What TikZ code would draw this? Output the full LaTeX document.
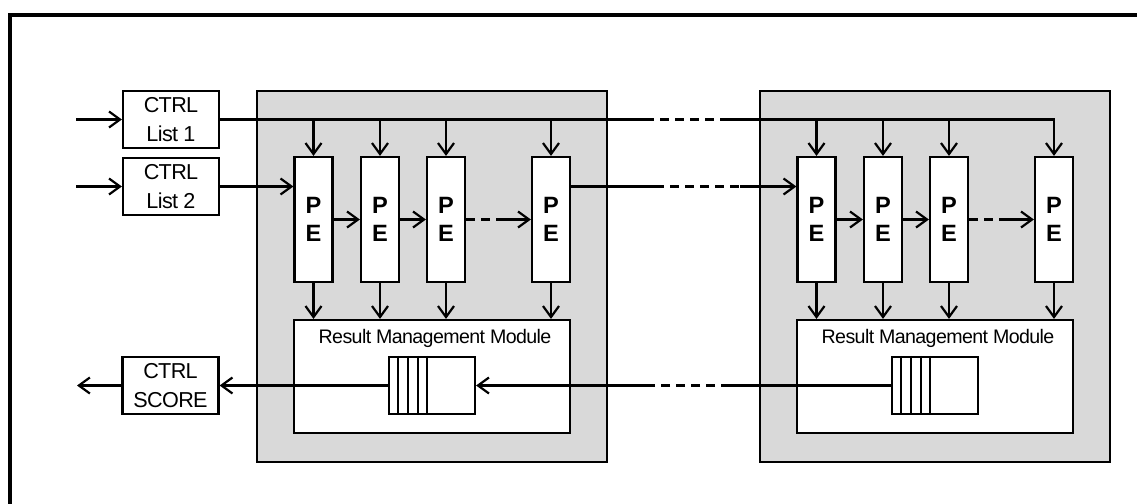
\documentclass[tikz,border=0pt]{standalone}
\usepackage{fontspec}
\setmainfont{Liberation Sans}
\usetikzlibrary{arrows.meta,calc}
\begin{document}
\begin{tikzpicture}[x=0.5pt,y=-0.5pt,line width=1.1pt,
  arr/.style={-{Straight Barb[length=5.5pt,width=8pt]}},
  dashseg/.style={dash pattern=on 4.5pt off 3pt},
  blockbg/.style={draw,fill=black!15},
  ctrlbox/.style={draw,fill=white,minimum width=48pt,minimum height=28.5pt,inner sep=0pt,align=center,font=\addfontfeatures{LetterSpace=-3}\fontsize{10.8}{14.5}\selectfont},
  pebox/.style={draw,fill=white,minimum width=19pt,minimum height=62.5pt,inner sep=0pt,align=center,font=\bfseries\fontsize{11.8}{14}\selectfont},
  rmmbox/.style={draw,fill=white,minimum width=138pt,minimum height=56.5pt,inner sep=0pt},
  rmmtext/.style={inner sep=0pt,font=\addfontfeatures{LetterSpace=-3}\fontsize{9.8}{11}\selectfont},
  queuebox/.style={draw,fill=white,minimum width=43pt,minimum height=28.5pt,inner sep=0pt},
  frameline/.style={line width=2pt}
]
\useasboundingbox (0,0) rectangle (1137,504);
\draw[frameline] (10.3,504) -- (10.3,14.5) -- (1137,14.5);

% blocks
\foreach \b/\o in {a/0,b/503}{
  \draw[blockbg] (257+\o,91) rectangle (607+\o,462);
  \node[pebox] (PE\b1) at (313.5+\o,219.5) {P\\E};
  \node[pebox] (PE\b2) at (380+\o,219.5) {P\\E};
  \node[pebox] (PE\b3) at (446+\o,219.5) {P\\E};
  \node[pebox] (PE\b4) at (551+\o,219.5) {P\\E};
  \node[rmmbox] (RMM\b) at (432+\o,376.5) {};
  \node[rmmtext] (RT\b) at (435+\o,338) {Result Management Module};
  \node[queuebox] (Q\b) at (432+\o,385.5) {};
  \foreach \d in {10,20,30,39}
    \draw ($(Q\b.north west)+(\d,0)$) -- ($(Q\b.south west)+(\d,0)$);
  \foreach \i in {1,2,3,4}
    \draw[arr] (PE\b\i.south) -- (PE\b\i.south |- RMM\b.north);
  \draw[arr] (PE\b1.east) -- (PE\b2.west);
  \draw[arr] (PE\b2.east) -- (PE\b3.west);
  \coordinate (pd\b) at ($(PE\b4.west)+(-29,0)$);
  \draw[dashseg] (PE\b3.east) -- (pd\b);
  \draw[arr] (pd\b) -- (PE\b4.west);
}

% control boxes
\node[ctrlbox] (L1) at (171,119.5) {CTRL\\List 1};
\node[ctrlbox] (L2) at (171,186.5) {CTRL\\List 2};
\node[ctrlbox] (SC) at (170.5,385.5) {CTRL\\SCORE};
\coordinate (in1) at (76,119.5);
\coordinate (in2) at (76,186.5);
\coordinate (out3) at (77,385.5);
\draw[arr] (in1) -- (L1.west);
\draw[arr] (in2) -- (L2.west);
\draw[arr] (SC.west) -- (out3);

% row 1 (CTRL List 1 broadcast)
\coordinate (r1a) at (645,119.5);
\coordinate (r1b) at (723,119.5);
\draw (L1.east) -- (r1a);
\draw[dashseg] (r1a) -- (r1b);
\draw[arr] (r1b) -- (PEb4.north |- L1.east) -- (PEb4.north);
\foreach \i in {1,2,3,4}
  \draw[arr] (PEa\i.north |- L1.east) -- (PEa\i.north);
\foreach \i in {1,2,3}
  \draw[arr] (PEb\i.north |- L1.east) -- (PEb\i.north);

% row 2 (CTRL List 2 chain)
\draw[arr] (L2.east) -- (PEa1.west |- L2.east);
\coordinate (r2a) at (655,186.5);
\coordinate (r2b) at (740,186.5);
\draw (PEa4.east |- L2.east) -- (r2a);
\draw[dashseg] (r2a) -- (r2b);
\draw[arr] (r2b) -- (PEb1.west |- L2.east);

% row 3 (results)
\coordinate (r3a) at (730,385.5);
\coordinate (r3b) at (653,385.5);
\draw (Qb.west) -- (r3a);
\draw[dashseg] (r3a) -- (r3b);
\draw[arr] (r3b) -- (Qa.east);
\draw[arr] (Qa.west) -- (SC.east);
\end{tikzpicture}
\end{document}
